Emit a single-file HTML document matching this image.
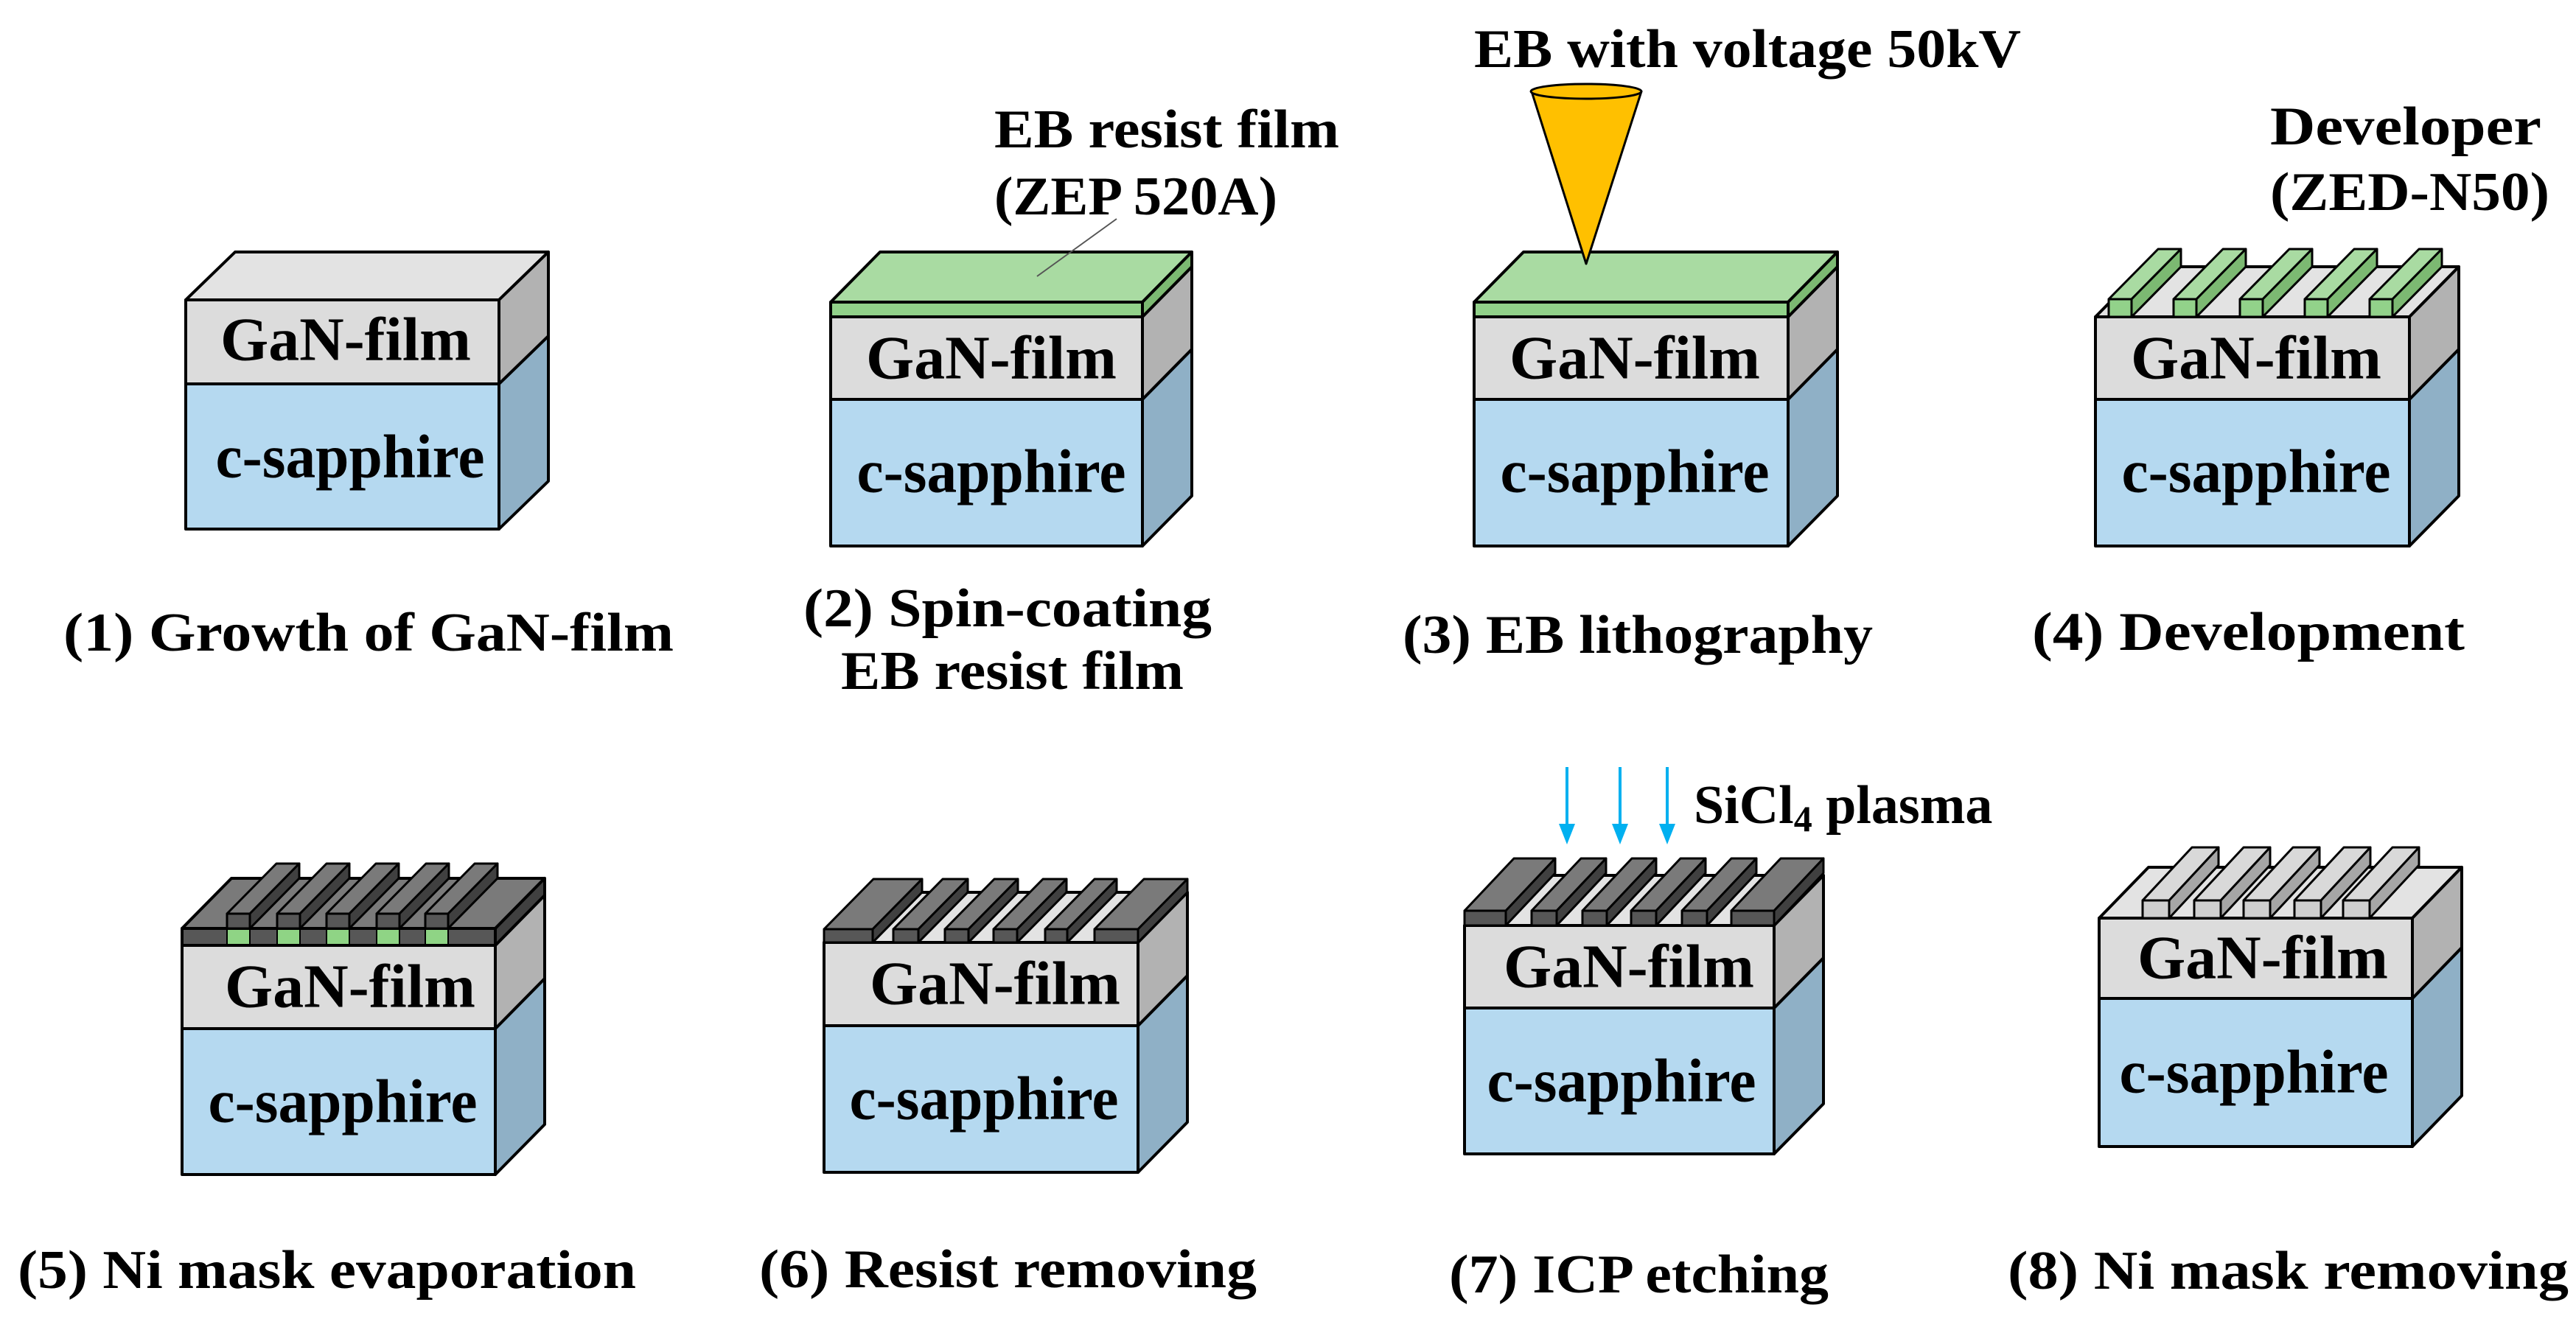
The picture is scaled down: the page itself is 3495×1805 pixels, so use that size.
<!DOCTYPE html>
<html><head><meta charset="utf-8"><style>
html,body{margin:0;padding:0;background:#fff;}
svg{display:block;}
text{font-family:"Liberation Serif",serif;font-weight:bold;fill:#000;}
</style></head><body>
<svg id="s" xmlns="http://www.w3.org/2000/svg" width="3495" height="1805" viewBox="0 0 3495 1805">
<rect width="3495" height="1805" fill="#fff"/>
<g id="shapes"></g>
<g id="labels" font-size="74">
<g font-size="84">
<text x="469" y="461" text-anchor="middle" dominant-baseline="central" textLength="340" lengthAdjust="spacingAndGlyphs">GaN-film</text>
<text x="475" y="620" text-anchor="middle" dominant-baseline="central" textLength="365" lengthAdjust="spacingAndGlyphs">c-sapphire</text>
<text x="1345" y="486" text-anchor="middle" dominant-baseline="central" textLength="340" lengthAdjust="spacingAndGlyphs">GaN-film</text>
<text x="1345" y="640" text-anchor="middle" dominant-baseline="central" textLength="365" lengthAdjust="spacingAndGlyphs">c-sapphire</text>
<text x="2218" y="486" text-anchor="middle" dominant-baseline="central" textLength="340" lengthAdjust="spacingAndGlyphs">GaN-film</text>
<text x="2218" y="640" text-anchor="middle" dominant-baseline="central" textLength="365" lengthAdjust="spacingAndGlyphs">c-sapphire</text>
<text x="3061" y="486" text-anchor="middle" dominant-baseline="central" textLength="340" lengthAdjust="spacingAndGlyphs">GaN-film</text>
<text x="3061" y="640" text-anchor="middle" dominant-baseline="central" textLength="365" lengthAdjust="spacingAndGlyphs">c-sapphire</text>
<text x="475" y="1339" text-anchor="middle" dominant-baseline="central" textLength="340" lengthAdjust="spacingAndGlyphs">GaN-film</text>
<text x="465" y="1495" text-anchor="middle" dominant-baseline="central" textLength="365" lengthAdjust="spacingAndGlyphs">c-sapphire</text>
<text x="1350" y="1335" text-anchor="middle" dominant-baseline="central" textLength="340" lengthAdjust="spacingAndGlyphs">GaN-film</text>
<text x="1335" y="1491" text-anchor="middle" dominant-baseline="central" textLength="365" lengthAdjust="spacingAndGlyphs">c-sapphire</text>
<text x="2210" y="1312" text-anchor="middle" dominant-baseline="central" textLength="340" lengthAdjust="spacingAndGlyphs">GaN-film</text>
<text x="2200" y="1467" text-anchor="middle" dominant-baseline="central" textLength="365" lengthAdjust="spacingAndGlyphs">c-sapphire</text>
<text x="3070" y="1300" text-anchor="middle" dominant-baseline="central" textLength="340" lengthAdjust="spacingAndGlyphs">GaN-film</text>
<text x="3058" y="1455" text-anchor="middle" dominant-baseline="central" textLength="365" lengthAdjust="spacingAndGlyphs">c-sapphire</text>
</g>
<text x="86" y="859" dominant-baseline="central" textLength="828" lengthAdjust="spacingAndGlyphs">(1) Growth of GaN-film</text>
<text x="1090" y="826" dominant-baseline="central" textLength="554" lengthAdjust="spacingAndGlyphs">(2) Spin-coating</text>
<text x="1141" y="911" dominant-baseline="central" textLength="465" lengthAdjust="spacingAndGlyphs">EB resist film</text>
<text x="1903" y="862" dominant-baseline="central" textLength="638" lengthAdjust="spacingAndGlyphs">(3) EB lithography</text>
<text x="2757" y="858" dominant-baseline="central" textLength="587" lengthAdjust="spacingAndGlyphs">(4) Development</text>
<text x="24" y="1724" dominant-baseline="central" textLength="839" lengthAdjust="spacingAndGlyphs">(5) Ni mask evaporation</text>
<text x="1030" y="1723" dominant-baseline="central" textLength="675" lengthAdjust="spacingAndGlyphs">(6) Resist removing</text>
<text x="1966" y="1730" dominant-baseline="central" textLength="515" lengthAdjust="spacingAndGlyphs">(7) ICP etching</text>
<text x="2724" y="1725" dominant-baseline="central" textLength="761" lengthAdjust="spacingAndGlyphs">(8) Ni mask removing</text>
<text x="1349" y="176" dominant-baseline="central" textLength="468" lengthAdjust="spacingAndGlyphs">EB resist film</text>
<text x="1349" y="267" dominant-baseline="central" textLength="384" lengthAdjust="spacingAndGlyphs">(ZEP 520A)</text>
<text x="2000" y="67" dominant-baseline="central" textLength="742" lengthAdjust="spacingAndGlyphs">EB with voltage 50kV</text>
<text x="3080" y="172" dominant-baseline="central" textLength="368" lengthAdjust="spacingAndGlyphs">Developer</text>
<text x="3080" y="261" dominant-baseline="central" textLength="379" lengthAdjust="spacingAndGlyphs">(ZED-N50)</text>
<text x="2298" y="1093" dominant-baseline="central">SiCl<tspan font-size="50" dy="18">4</tspan><tspan dy="-18"> plasma</tspan></text>
</g>
</svg>
<script>
(function(){
var g=document.getElementById('shapes'),out='';
function poly(pts,fill,sw){out+='<polygon points="'+pts.map(function(p){return p[0]+','+p[1]}).join(' ')+'" fill="'+fill+'" stroke="#000" stroke-width="'+sw+'" stroke-linejoin="round"/>';}
function box(x,y,w,h,dx,dy,c,sw){
 sw=sw||4;
 poly([[x,y],[x+w,y],[x+w,y+h],[x,y+h]],c[0],sw);
 poly([[x,y],[x+dx,y+dy],[x+w+dx,y+dy],[x+w,y]],c[1],sw);
 poly([[x+w,y],[x+w+dx,y+dy],[x+w+dx,y+h+dy],[x+w,y+h]],c[2],sw);
}
var GAN=['#dcdcdc','#e3e3e3','#b2b2b2'],SAP=['#b5d9f0','#b5d9f0','#8fb0c6'],
GR=['#92d28a','#a9dba2','#7cb972'],NI=['#575757','#7a7a7a','#404040'],LR=['#cfcfcf','#d9d9d9','#a6a6a6'];
var DX=67,DY=-68;
function base(x,gy,gh,sh,W,dy){dy=dy||DY;box(x,gy+gh,W,sh,DX,dy,SAP);box(x,gy,W,gh,DX,dy,GAN);}
base(252,407,114,197,425,-65);
base(1127,430,112,199,423);box(1127,410,423,20,DX,DY,GR);
base(2000,430,112,199,426);box(2000,410,426,20,DX,DY,GR);
base(2843,430,112,199,426);
[18,106,196,284,372].forEach(function(r){box(2843+r,406,31,24,DX,DY,GR,3);});
base(247,1283,113,198,425);
box(247,1260,425,23,DX,DY,NI);
[61,129,196,264,330].forEach(function(r){poly([[247+r,1261],[278+r,1261],[278+r,1282],[247+r,1282]],'#8fd485',2);});
[61,129,196,264,330].forEach(function(r){box(247+r,1240,31,20,DX,DY,NI,3);});
base(1118,1279,113,199,426);
[[0,66],[94,128],[164,196],[230,262],[300,330],[367,426]].forEach(function(a){box(1118+a[0],1261,a[1]-a[0],18,DX,DY,NI,3);});
base(1987,1256,112,198,420);
[[0,56],[91,125],[160,193],[226,260],[295,329],[362,420]].forEach(function(a){box(1987+a[0],1236,a[1]-a[0],20,DX,-71,NI,3);});
base(2848,1246,109,201,425,-69);
[59,129,196,265,331].forEach(function(r){box(2848+r,1222,36,24,DX,-72,LR,3);});
out+='<polygon points="2078,124 2227,124 2152,358" fill="#ffc000" stroke="#000" stroke-width="3" stroke-linejoin="round"/>';
out+='<ellipse cx="2152" cy="124" rx="75" ry="10" fill="#ffc000" stroke="#000" stroke-width="3"/>';
out+='<line x1="1515" y1="297" x2="1407" y2="375" stroke="#555" stroke-width="2"/>';
[2126,2198,2262].forEach(function(x){
 out+='<line x1="'+x+'" y1="1041" x2="'+x+'" y2="1122" stroke="#00b0f0" stroke-width="4"/>';
 out+='<polygon points="'+(x-11)+',1118 '+(x+11)+',1118 '+x+',1146" fill="#00b0f0"/>';
});
g.innerHTML=out;
})();
</script>
</body></html>
